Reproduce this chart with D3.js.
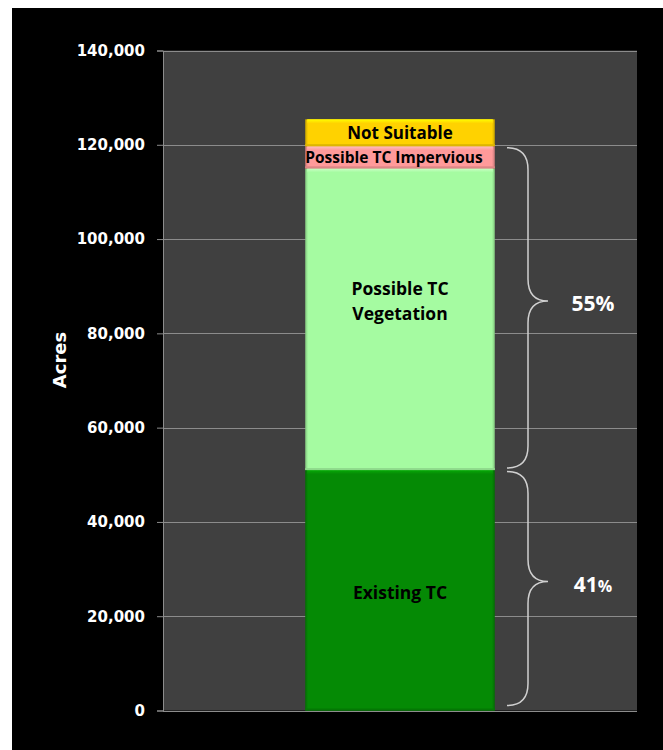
<!DOCTYPE html>
<html>
<head>
<meta charset="utf-8">
<script src="https://cdn.jsdelivr.net/npm/d3@7"></script>
<style>
  html, body { margin: 0; padding: 0; background: #ffffff; }
  svg { display: block; }
</style>
</head>
<body>
<svg id="chart" width="663" height="750"></svg>
<script>
// Land cover breakdown (acres), stacked bottom to top
const categories = ["Existing TC", "Possible TC Vegetation", "Possible TC Impervious", "Not Suitable"];
const acres = [51000, 64000, 4700, 5700];
const segmentLabels = [["Existing TC"], ["Possible TC", "Vegetation"], ["Possible TC Impervious"], ["Not Suitable"]];
const segmentColors = ["#058a05", "#a5fba1", "#ff9a9a", "#ffd200"];
const yTicks = [0, 20000, 40000, 60000, 80000, 100000, 120000, 140000];
const barName = ["Total"];
// Braces group segments: [first index, last index, label, small suffix]
const braceGroups = [[0, 0, "41", "%"], [1, 2, "55%", ""]];

const svg = d3.select("#chart");
const W = 663, H = 750;

// black chart area with a thin white margin top/left
svg.append("rect").attr("x", 12).attr("y", 8).attr("width", W - 12).attr("height", H - 8).attr("fill", "#000");

const plot = { left: 163, right: 637, top: 50.5, bottom: 710.5 };

const y = d3.scaleLinear().domain([0, 140000]).range([plot.bottom, plot.top]);
const x = d3.scaleBand().domain(barName).range([plot.left, plot.right]).paddingInner(0).paddingOuter(0.75);

// plot background
svg.append("rect")
  .attr("x", plot.left).attr("y", plot.top)
  .attr("width", plot.right - plot.left).attr("height", plot.bottom - plot.top)
  .attr("fill", "#404040");

// gridlines
svg.append("g").selectAll("line").data(yTicks).join("line")
  .attr("x1", plot.left).attr("x2", plot.right)
  .attr("y1", d => Math.round(y(d)) + 0.5).attr("y2", d => Math.round(y(d)) + 0.5)
  .attr("stroke", "#8c8c8c").attr("stroke-width", 1);

// y axis
const yAxis = d3.axisLeft(y).tickValues(yTicks).tickFormat(d3.format(",")).tickSize(6).tickPadding(12);
const gy = svg.append("g").attr("transform", `translate(${plot.left},0)`).call(yAxis);
gy.select(".domain").attr("stroke", "#8c8c8c");
gy.selectAll(".tick line").attr("stroke", "#8c8c8c");
gy.selectAll(".tick text")
  .attr("fill", "#fff")
  .style("font-family", "'DejaVu Sans', sans-serif")
  .style("font-weight", "bold")
  .style("font-size", "15px");

// axis title
svg.append("text")
  .attr("transform", `translate(66,360) rotate(-90)`)
  .attr("text-anchor", "middle")
  .attr("fill", "#fff")
  .style("font-family", "'DejaVu Sans', sans-serif")
  .style("font-weight", "bold")
  .style("font-size", "18px")
  .text("Acres");

// stacked segments
let cum = 0;
const segs = acres.map((v, i) => { const s = { i, y0: cum, y1: cum + v }; cum += v; return s; });
const bx = x(barName[0]), bw = x.bandwidth();

const defs = svg.append("defs");
segs.forEach(s => {
  const base = d3.color(segmentColors[s.i]);
  const g = defs.append("linearGradient").attr("id", "hl" + s.i).attr("x1", 0).attr("x2", 0).attr("y1", 0).attr("y2", 1);
  g.append("stop").attr("offset", "0%").attr("stop-color", base.brighter(0.6).formatHex());
  g.append("stop").attr("offset", "100%").attr("stop-color", base.formatHex());
  const sg = defs.append("linearGradient").attr("id", "sd" + s.i).attr("x1", 0).attr("x2", 1).attr("y1", 0).attr("y2", 0);
  sg.append("stop").attr("offset", "0%").attr("stop-color", base.darker(0.7).formatHex());
  sg.append("stop").attr("offset", "1.5%").attr("stop-color", base.formatHex());
  sg.append("stop").attr("offset", "98.5%").attr("stop-color", base.formatHex());
  sg.append("stop").attr("offset", "100%").attr("stop-color", base.darker(0.7).formatHex());
});

const bars = svg.append("g");
segs.forEach(s => {
  const top = y(s.y1), bot = y(s.y0);
  bars.append("rect")
    .attr("x", bx).attr("y", top).attr("width", bw).attr("height", bot - top)
    .attr("fill", `url(#sd${s.i})`);
  // bevel highlight along the top edge
  bars.append("rect")
    .attr("x", bx + 2).attr("y", top).attr("width", bw - 4).attr("height", 4)
    .attr("fill", `url(#hl${s.i})`);
  // slight shading along the bottom edge
  bars.append("rect")
    .attr("x", bx).attr("y", bot - 2).attr("width", bw).attr("height", 2)
    .attr("fill", d3.color(segmentColors[s.i]).darker(0.4).formatHex());
});

// segment labels
const labelSize = [17.5, 17.5, 15.5, 17];
segs.forEach(s => {
  const lines = segmentLabels[s.i];
  const mid = (y(s.y0) + y(s.y1)) / 2;
  const lh = 25;
  const center = lines.length > 1 ? mid - 18 : (s.i === 0 ? mid + 3 : mid);
  const t = svg.append("text")
    .attr("text-anchor", "middle")
    .attr("fill", "#000")
    .style("font-family", "'Open Sans', sans-serif")
    .style("font-weight", "bold")
    .style("font-size", labelSize[s.i] + "px");
  lines.forEach((ln, k) => {
    t.append("tspan")
      .attr("x", bx + bw / 2 - (s.i === 2 ? 6 : 0))
      .attr("y", center + (k - (lines.length - 1) / 2) * lh)
      .attr("dy", "0.35em")
      .text(ln);
  });
});

// curly braces with share labels
const x0 = 507, x1 = 528, x2 = 548, r = 22;
braceGroups.forEach(([a, b, lab, suf], gi) => {
  const yt = y(segs[b].y1) + 1.5;
  const yb = y(segs[a].y0) - (gi === 0 ? 5 : 2);
  const ym = (yt + yb) / 2 - 7;
  const p = d3.path();
  p.moveTo(x0, yt);
  p.quadraticCurveTo(x1, yt, x1, yt + r);
  p.lineTo(x1, ym - r);
  p.quadraticCurveTo(x1, ym, x2, ym);
  p.quadraticCurveTo(x1, ym, x1, ym + r);
  p.lineTo(x1, yb - r);
  p.quadraticCurveTo(x1, yb, x0, yb);
  svg.append("path").attr("d", p.toString())
    .attr("fill", "none").attr("stroke", "#d0d0d0").attr("stroke-width", 1.5);
  const t = svg.append("text")
    .attr("x", 593).attr("y", ym + 3).attr("dy", "0.35em")
    .attr("text-anchor", "middle").attr("fill", "#fff")
    .style("font-family", "'Open Sans', sans-serif").style("font-weight", "bold").style("font-size", "21px")
    .text(lab);
  if (suf) t.append("tspan").style("font-size", "16px").text(suf);
});
</script>
</body>
</html>
